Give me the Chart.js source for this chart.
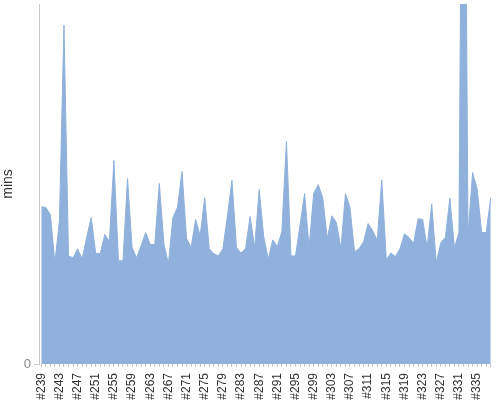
<!DOCTYPE html>
<html>
<head>
<meta charset="utf-8">
<script src="https://cdn.jsdelivr.net/npm/chart.js@4/dist/chart.umd.min.js"></script>
<style>
  html, body { margin: 0; padding: 0; background: #fff; }
  #wrap { width: 500px; height: 400px; position: relative; }
</style>
</head>
<body>
<div id="wrap"><canvas id="chart"></canvas></div>
<script>
/* ---------- Data ---------- */
const firstBuild = 239;
const buildMinutes = [
  26.2, 26.1, 24.9, 16.9, 23.9, 56.5, 18.0, 17.7, 19.2, 17.5,
  21.1, 24.4, 18.4, 18.4, 21.6, 20.4, 33.9, 17.2, 17.2, 30.9,
  19.4, 17.7, 19.7, 21.9, 19.9, 19.9, 30.1, 20.1, 16.7, 24.4,
  26.1, 32.1, 20.9, 19.4, 24.1, 21.4, 27.7, 19.2, 18.4, 18.0,
  19.2, 24.7, 30.6, 19.4, 18.5, 19.2, 24.6, 19.4, 29.1, 21.2,
  17.5, 20.7, 19.6, 22.1, 37.1, 18.0, 18.0, 23.2, 28.4, 19.4,
  28.4, 29.9, 27.7, 20.9, 24.7, 23.6, 19.2, 28.4, 26.1, 18.7,
  19.2, 20.4, 23.4, 22.2, 20.6, 30.7, 17.4, 18.5, 17.9, 19.2,
  21.7, 21.1, 20.1, 24.2, 24.1, 19.4, 26.7, 16.9, 20.2, 21.1,
  27.6, 19.4, 21.9, 134, 21.4, 31.9, 29.2, 21.9, 21.9, 27.7
];
const buildLabels = buildMinutes.map((v, i) => '#' + (firstBuild + i));
const yTicks = [0];
const yMax = 60;

/* ---------- Chart ---------- */
const ctx = document.getElementById('chart');

new Chart(ctx, {
  type: 'line',
  data: {
    labels: buildLabels,
    datasets: [{
      data: buildMinutes,
      fill: 'origin',
      backgroundColor: 'rgb(143, 177, 219)',
      borderColor: 'rgb(143, 177, 219)',
      borderWidth: 1,
      pointRadius: 0,
      tension: 0
    }]
  },
  options: {
    responsive: true,
    maintainAspectRatio: false,
    animation: false,
    layout: { padding: { top: 4, right: 7, left: 0, bottom: 0 } },
    plugins: {
      legend: { display: false },
      tooltip: { enabled: false }
    },
    scales: {
      x: {
        offset: true,
        border: { display: false },
        grid: {
          drawOnChartArea: false,
          drawTicks: true,
          tickLength: 3,
          color: '#c8c8c8'
        },
        ticks: {
          autoSkip: false,
          maxRotation: 90,
          minRotation: 90,
          padding: 6,
          color: '#333',
          font: { family: 'Liberation Sans, Arial, sans-serif', size: 12 },
          callback: (v, i) => (i % 4 === 0 ? buildLabels[i] : '')
        },
        afterFit: (scale) => {
          scale.height = 36;
          scale.paddingLeft = 0;
          scale.paddingRight = 0;
        }
      },
      y: {
        min: 0,
        max: yMax,
        border: { display: true, color: '#c8c8c8' },
        grid: {
          drawOnChartArea: false,
          drawTicks: true,
          tickLength: 5,
          color: '#c8c8c8'
        },
        afterBuildTicks: (scale) => { scale.ticks = yTicks.map(v => ({ value: v })); },
        ticks: {
          color: '#888',
          padding: 3,
          font: { family: 'Liberation Sans, Arial, sans-serif', size: 13 }
        },
        title: {
          display: true,
          text: 'mins',
          color: '#333',
          padding: 0,
          font: { family: 'Liberation Sans, Arial, sans-serif', size: 14 }
        },
        afterFit: (scale) => {
          scale.width = 39;
          scale.paddingTop = 0;
          scale.paddingBottom = 0;
        }
      }
    }
  }
});
</script>
</body>
</html>
